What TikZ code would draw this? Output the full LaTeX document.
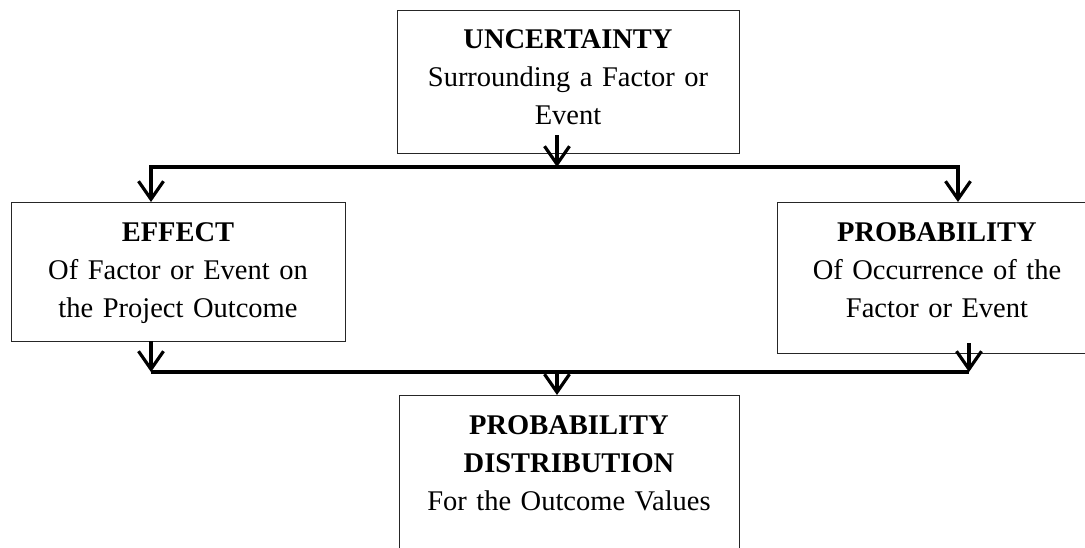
\documentclass[tikz,border=0pt]{standalone}
\usepackage{fontspec}
\setmainfont{Liberation Serif}
\usetikzlibrary{arrows.meta}
\begin{document}
\begin{tikzpicture}[x=1pt,y=-1pt,
  box/.style={draw=black!85,line width=1.3pt,rectangle,inner sep=0pt,anchor=north west},
  lbl/.style={anchor=base,align=center,text width=330pt,font=\fontsize{28.5}{38}\selectfont,inner sep=0pt},
  conn/.style={line width=3.2pt},
  arr/.style={conn,-{Straight Barb[length=18pt,width=25pt]}}]
\useasboundingbox (0,0) rectangle (1085,547);
\clip (0,0) rectangle (1085,547);
% boxes
\node[box,minimum width=342pt,minimum height=143pt] (unc) at (397,10) {};
\node[box,minimum width=334pt,minimum height=139pt] (eff) at (11,202) {};
\node[box,minimum width=320pt,minimum height=151pt] (prob) at (777,202) {};
\node[box,minimum width=340pt,minimum height=220pt] (dist) at (399,395) {};
% texts
\node[lbl] (unct) at (568,48) {\textbf{UNCERTAINTY}\\Surrounding a Factor or\\Event};
\node[lbl] (efft) at (178,241) {\textbf{EFFECT}\\Of Factor or Event on\\the Project Outcome};
\node[lbl] (probt) at (937,241) {\textbf{PROBABILITY}\\Of Occurrence of the\\Factor or Event};
\node[lbl] (distt) at (569,434) {\textbf{PROBABILITY}\\\textbf{DISTRIBUTION}\\For the Outcome Values};
% connector points
\coordinate (uncout) at (557,135);
\coordinate (split) at (557,167);
\coordinate (effin) at (151,202);
\coordinate (probin) at (958,202);
\coordinate (effout) at (151,341);
\coordinate (probout) at (969,343);
\coordinate (effj) at (151,372);
\coordinate (probj) at (969,372);
\coordinate (merge) at (557,372);
\coordinate (distin) at (557,395);
% connectors
\draw[arr] (uncout) -- (split);
\draw[arr] (split) -| (effin);
\draw[arr] (split) -| (probin);
\draw[arr] (effout) -- (effj);
\draw[arr] (probout) -- (probj);
\draw[conn] (effj) -- (probj);
\draw[arr] (merge) -- (distin);
\end{tikzpicture}
\end{document}
